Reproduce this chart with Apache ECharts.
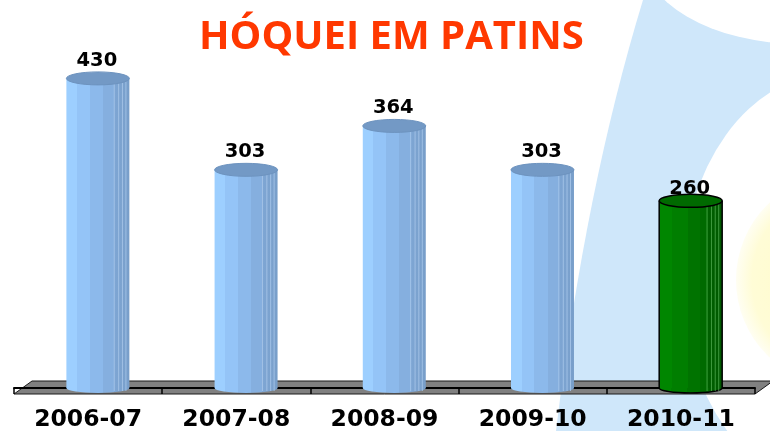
<!DOCTYPE html>
<html>
<head>
<meta charset="utf-8">
<script src="https://cdn.jsdelivr.net/npm/echarts@6/dist/echarts.min.js"></script>
<style>
html,body{margin:0;padding:0;background:#fff;}
#chart{width:770px;height:431px;}
</style>
</head>
<body>
<div id="chart"></div>
<script>
// ---- data ----
const categories = ['2006-07', '2007-08', '2008-09', '2009-10', '2010-11'];
const values = [430, 303, 364, 303, 260];
const highlightIndex = 4;
const titleText = 'HÓQUEI EM PATINS';

// ---- styles ----
const bluePal = {
  stops: [[0,'#9dcfff'],[0.17,'#9dcfff'],[0.17,'#94c4f7'],[0.37,'#94c4f7'],[0.37,'#8cb9eb'],[0.58,'#8cb9eb'],[0.58,'#85afdf'],[0.76,'#85afdf'],[0.76,'#7ea6d4'],[1,'#789ec9']],
  top: '#7399c5', topStroke: '#6d93bf', stroke: null, stripe: 'rgba(170,200,235,0.8)'
};
const greenPal = {
  stops: [[0,'#008600'],[0.2,'#008600'],[0.2,'#007e00'],[0.45,'#007e00'],[0.45,'#007300'],[0.65,'#007300'],[0.65,'#006a00'],[0.78,'#006a00'],[0.78,'#006000'],[1,'#005800']],
  top: '#006a00', topStroke: '#000', stroke: '#000', stripe: 'rgba(90,180,90,0.7)'
};

function grad(stops){
  return { type:'linear', x:0, y:0, x2:1, y2:0, colorStops: stops.map(s => ({offset:s[0], color:s[1]})) };
}
function ellipsePath(cx, cy, rx, ry){
  return 'M' + (cx-rx) + ',' + cy + ' A' + rx + ',' + ry + ' 0 1 0 ' + (cx+rx) + ',' + cy +
         ' A' + rx + ',' + ry + ' 0 1 0 ' + (cx-rx) + ',' + cy + ' Z';
}

function renderBar(params, api){
  const i = params.dataIndex;
  const v = api.value(1);
  const top = api.coord([i, v]);
  const base = api.coord([i, 0]);
  const band = api.size([1, 0])[0];
  const w = band * 0.425;
  const cx = top[0] + band * 0.066;
  const x0 = cx - w / 2;
  const ry = 6.5;
  const pal = i === highlightIndex ? greenPal : bluePal;
  const lw = pal.stroke ? 1.5 : 0;
  const children = [];
  children.push({ type:'path', shape:{ pathData: ellipsePath(cx, base[1], w/2, 5) },
    style:{ fill: grad(pal.stops), stroke: pal.stroke, lineWidth: lw } });
  children.push({ type:'rect', shape:{x:x0, y:top[1], width:w, height:base[1]-top[1]},
    style:{ fill: grad(pal.stops) } });
  [0.76, 0.83, 0.89, 0.945].forEach(f => {
    children.push({ type:'line', shape:{x1:x0+w*f, y1:top[1], x2:x0+w*f, y2:base[1]+3},
      style:{ stroke: pal.stripe, lineWidth: 1 } });
  });
  if (pal.stroke){
    children.push({ type:'line', shape:{x1:x0, y1:top[1], x2:x0, y2:base[1]}, style:{stroke:pal.stroke, lineWidth:lw} });
    children.push({ type:'line', shape:{x1:x0+w, y1:top[1], x2:x0+w, y2:base[1]}, style:{stroke:pal.stroke, lineWidth:lw} });
  }
  children.push({ type:'path', shape:{ pathData: ellipsePath(cx, top[1], w/2, ry) },
    style:{ fill: pal.top, stroke: pal.topStroke, lineWidth: pal.stroke ? 1.5 : 1 } });
  const labelGap = i === highlightIndex ? -5 : 1;
  children.push({ type:'text', z2: 10, style:{ text: String(v), x: cx - 1, y: top[1] - ry - labelGap,
    align:'center', verticalAlign:'bottom', font:'bold 19.5px "DejaVu Sans"', fill:'#000' } });
  return { type:'group', children: children };
}

// background logo shapes + 3D floor (decoration)
function renderDecor(params, api){
  const cs = params.coordSys;
  const front = cs.y + cs.height + 6;
  const back = front - 13;
  const dx = 18;
  return { type:'group', children: [
    { type:'path', shape:{ pathData:'M643,0 L770,0 L770,431 L556,431 Q585,190 643,0 Z' }, style:{ fill:'#cfe7fa' } },
    { type:'path', shape:{ pathData: ellipsePath(800, -50, 160, 94) }, style:{ fill:'#ffffff' } },
    { type:'path', shape:{ pathData: ellipsePath(832, 282, 150, 208) }, style:{ fill:'#ffffff' } },
    { type:'circle', shape:{ cx:842, cy:280, r:106 },
      style:{ fill: { type:'radial', x:0.5, y:0.5, r:0.5, colorStops:[{offset:0,color:'#fffbc4'},{offset:0.85,color:'#fffcd6'},{offset:1,color:'#fffef2'}] } } },
    { type:'polygon', shape:{ points:[[cs.x, front],[cs.x+dx, back],[cs.x+cs.width+dx, back],[cs.x+cs.width, front]] },
      style:{ fill:'#808080', stroke:'#1a1a1a', lineWidth:1 } }
  ]};
}

const chart = echarts.init(document.getElementById('chart'), null, {renderer:'canvas'});
chart.setOption({
  backgroundColor: '#ffffff',
  animation: false,
  title: {
    text: titleText, left: 194, top: 13, z: 10,
    textStyle: { color:'#ff3800', fontFamily:'"Open Sans"', fontWeight:'bold', fontSize:40 }
  },
  grid: { left:14, right:15, top:28, bottom:43, containLabel:false, outerBoundsMode:'none' },
  xAxis: {
    type:'category', data: categories, offset: 6,
    axisLine:{ lineStyle:{ color:'#000', width:2 } },
    axisTick:{ show:true, length:6, lineStyle:{ color:'#000', width:1.5 } },
    axisLabel:{ margin: 14, color:'#000', fontFamily:'"DejaVu Sans"', fontWeight:'bold', fontSize:23.5 }
  },
  yAxis: { type:'value', min:0, max:500, show:false, splitLine:{show:false} },
  series: [
    { type:'custom', z:0, renderItem: renderDecor, data:[[0,0]], silent:true },
    { type:'custom', z:2, renderItem: renderBar, data: values.map((v,i)=>[i,v]) }
  ]
});
</script>
</body>
</html>
